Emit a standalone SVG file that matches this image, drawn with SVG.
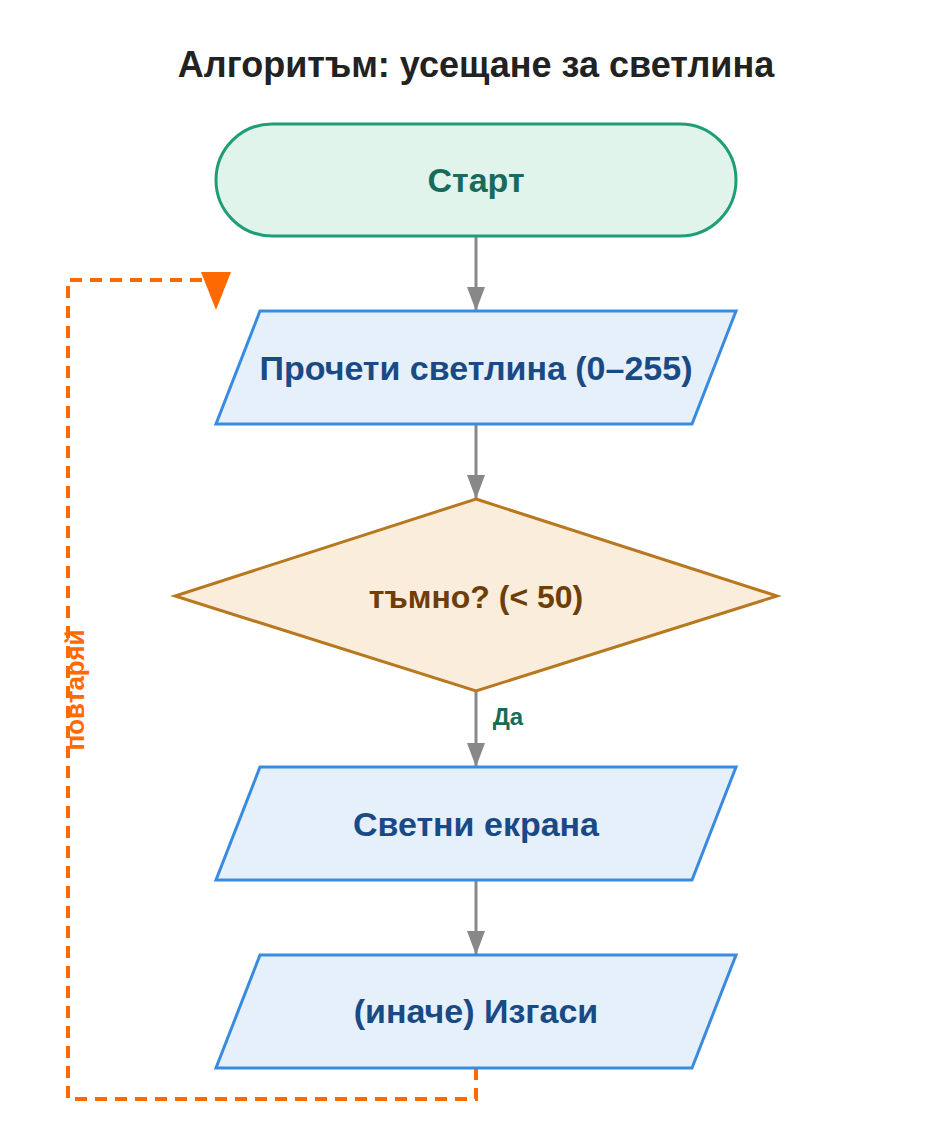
<svg xmlns="http://www.w3.org/2000/svg" width="952" height="1132" viewBox="0 0 952 1132">
<style>
text{font-family:"Liberation Sans",Arial,sans-serif;font-weight:bold;text-anchor:middle;dominant-baseline:central}
.io{fill:#e5f0fb;stroke:#3a8be0;stroke-width:3}
.io-t{fill:#1a4a85;font-size:34px}
.c{stroke:#888;stroke-width:3;fill:none}
</style>
<defs>
<marker id="g" markerWidth="24" markerHeight="32" refX="32" refY="12" orient="auto" markerUnits="userSpaceOnUse" viewBox="0 0 32 24">
<path d="M0 0 L32 12 L0 24 Z" fill="#888"/>
</marker>
</defs>
<rect width="952" height="1132" fill="#fff"/>
<text x="476" y="64" font-size="36" fill="#222">Алгоритъм: усещане за светлина</text>
<g id="connectors">
<line class="c" x1="476" y1="236" x2="476" y2="311" marker-end="url(#g)"/>
<line class="c" x1="476" y1="424" x2="476" y2="499" marker-end="url(#g)"/>
<line class="c" x1="476" y1="691" x2="476" y2="767" marker-end="url(#g)"/>
<text x="508" y="716" font-size="24" fill="#176b5b">Да</text>
<line class="c" x1="476" y1="880" x2="476" y2="955" marker-end="url(#g)"/>
<path d="M476 1068 V1099 H68 V280 H205" fill="none" stroke="#ff6a00" stroke-width="4" stroke-dasharray="12 8"/>
<polygon points="201,272 231,272 216,310" fill="#ff6a00"/>
<text x="75" y="690" font-size="26" fill="#ff6a00" transform="rotate(-90 75 690)">повтаряй</text>
</g>
<g id="start">
<rect x="216" y="124" width="520" height="112" rx="56" fill="#e1f4ec" stroke="#1e9e77" stroke-width="3"/>
<text x="476" y="180" font-size="34" fill="#176b5b">Старт</text>
</g>
<g id="read">
<polygon class="io" points="260,311 736,311 692,424 216,424"/>
<text class="io-t" x="476" y="368">Прочети светлина (0–255)</text>
</g>
<g id="dark">
<polygon points="476,499 777,596 476,691 175,596" fill="#faeddb" stroke="#b87820" stroke-width="3"/>
<text x="476" y="597" font-size="32" fill="#6e3e0a">тъмно? (&lt; 50)</text>
</g>
<g id="on">
<polygon class="io" points="260,767 736,767 692,880 216,880"/>
<text class="io-t" x="476" y="824">Светни екрана</text>
</g>
<g id="off">
<polygon class="io" points="260,955 736,955 692,1068 216,1068"/>
<text class="io-t" x="476" y="1011">(иначе) Изгаси</text>
</g>
</svg>
